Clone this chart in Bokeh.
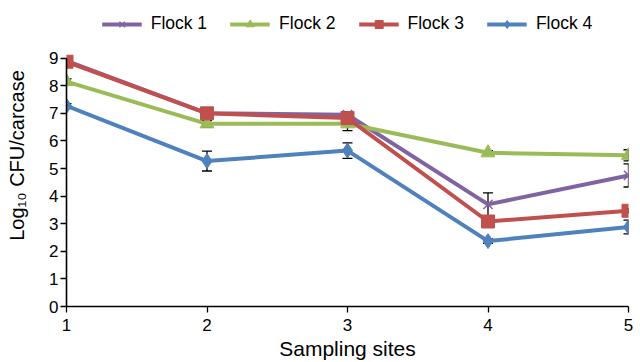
from bokeh.plotting import figure
from bokeh.models import ColumnDataSource, Legend, LegendItem, Whisker, TeeHead, Range1d
from bokeh.embed import file_html
from bokeh.resources import INLINE

sites = [1, 2, 3, 4, 5]
series_names = ["Flock 1", "Flock 2", "Flock 3", "Flock 4"]
flock1 = [8.9, 7.0, 6.95, 3.7, 4.75]
flock2 = [8.15, 6.62, 6.62, 5.57, 5.48]
flock3 = [8.87, 7.0, 6.83, 3.08, 3.47]
flock4 = [7.27, 5.27, 5.65, 2.37, 2.88]
err1 = [0.1, 0.1, 0.1, 0.42, 0.42]
err2 = [0.1, 0.12, 0.25, 0.08, 0.2]
err3 = [0.1, 0.08, 0.08, 0.08, 0.08]
err4 = [0.08, 0.36, 0.28, 0.08, 0.25]
y_ticks = [0, 1, 2, 3, 4, 5, 6, 7, 8, 9]

colors = ["#8064A2", "#9BBB59", "#C0504D", "#4F81BD"]
markers = ["x", "triangle", "square", "diamond"]
msizes = [13, 14, 13, 15]

FONT = "Liberation Sans"

p = figure(width=636, height=362, output_backend="svg", toolbar_location=None,
           x_range=Range1d(1, 5), y_range=Range1d(0, 10.944),
           min_border_left=66, min_border_right=8, min_border_top=4, min_border_bottom=54)
p.outline_line_color = None
p.grid.grid_line_color = None

p.xaxis.ticker = sites
p.yaxis.ticker = y_ticks
p.yaxis.bounds = (0, 9)
for ax in (p.xaxis[0], p.yaxis[0]):
    ax.axis_line_color = "black"
    ax.axis_line_width = 1.6
    ax.major_tick_line_color = "black"
    ax.major_tick_line_width = 1.3
    ax.major_tick_in = 0
    ax.major_tick_out = 6
    ax.minor_tick_line_color = None
    ax.major_label_text_font = FONT
    ax.major_label_text_font_size = "17px"
    ax.major_label_text_color = "black"
    ax.axis_label_text_font = FONT
    ax.axis_label_text_font_style = "normal"
    ax.axis_label_text_color = "black"
p.xaxis.axis_label = "Sampling sites"
p.yaxis.axis_label = "Log\u2081\u2080 CFU/carcase"
p.xaxis.axis_label_text_font_size = "21px"
p.yaxis.axis_label_text_font_size = "20px"
p.xaxis.axis_label_standoff = 3
p.yaxis.axis_label_standoff = 18
p.xaxis.major_label_standoff = 6
p.yaxis.major_label_standoff = 2

items = []
for name, ys, errs, c, m, s in zip(series_names, [flock1, flock2, flock3, flock4],
                                   [err1, err2, err3, err4], colors, markers, msizes):
    src = ColumnDataSource(dict(x=sites, y=ys,
                                lo=[a - b for a, b in zip(ys, errs)],
                                hi=[a + b for a, b in zip(ys, errs)]))
    l = p.line("x", "y", source=src, line_color=c, line_width=4)
    if m == "x":
        r = p.scatter("x", "y", source=src, marker=m, size=s, line_color=c, line_width=1.5)
    else:
        r = p.scatter("x", "y", source=src, marker=m, size=s, fill_color=c, line_color=c)
    w = Whisker(source=src, base="x", lower="lo", upper="hi", line_color="black", line_width=1.3,
                upper_head=TeeHead(size=10, line_color="black", line_width=1.3),
                lower_head=TeeHead(size=10, line_color="black", line_width=1.3))
    p.add_layout(w)
    items.append(LegendItem(label=name, renderers=[l, r]))

legend = Legend(items=items, orientation="horizontal", location="top_center",
                background_fill_alpha=0, border_line_color=None,
                label_text_font=FONT, label_text_font_size="17.5px", label_text_color="black",
                glyph_width=40, glyph_height=20, label_standoff=9, spacing=23,
                padding=3, margin=9)
p.add_layout(legend, "center")

open("out.html", "w").write(file_html(p, INLINE))
